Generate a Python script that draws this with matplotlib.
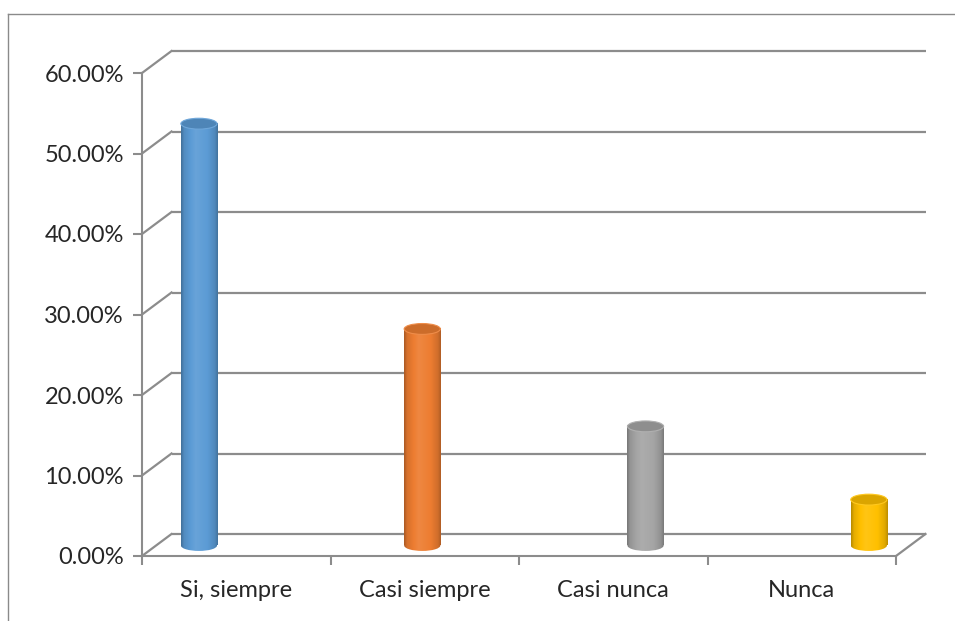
import numpy as np
import matplotlib
matplotlib.use("Agg")
import matplotlib.pyplot as plt
import matplotlib.transforms as mtransforms
from matplotlib.patches import Ellipse
from matplotlib.lines import Line2D
from matplotlib.colors import to_rgb
from matplotlib.ticker import PercentFormatter

plt.rcParams['font.family'] = ['Lato', 'DejaVu Sans']

# survey answers (share of respondents)
categories = ["Si, siempre", "Casi siempre", "Casi nunca", "Nunca"]
values = [0.524, 0.269, 0.148, 0.057]
colors = ["#5b9bd5", "#ed7d31", "#a5a5a5", "#ffc000"]
y_ticks = [0.0, 0.1, 0.2, 0.3, 0.4, 0.5, 0.6]

W, H = 955, 621
fig = plt.figure(figsize=(W / 100, H / 100), dpi=100)
grid_col = "#8c8c8c"
text_col = "#262626"

# outer chart border (only top and left edges fall inside the image)
top = 1 - 14 / H
fig.lines.append(Line2D([8 / W, 1.0], [top, top], transform=fig.transFigure,
                        color="#8a8a8a", lw=1.0))
fig.lines.append(Line2D([8 / W, 8 / W], [0, top], transform=fig.transFigure,
                        color="#8a8a8a", lw=1.0))

# front plane of the 3d box
ax = fig.add_axes([142 / W, 65 / H, 754 / W, 483 / H])
ax.set_xlim(0, 4)
ax.set_ylim(0, 0.6)
ax.patch.set_visible(False)
for s in ["top", "right"]:
    ax.spines[s].set_visible(False)
for s in ["left", "bottom"]:
    ax.spines[s].set_color(grid_col)
    ax.spines[s].set_linewidth(1.5)

ax.set_yticks(y_ticks)
ax.yaxis.set_major_formatter(PercentFormatter(1.0, decimals=2))
ax.tick_params(axis="y", length=6.5, width=1.5, color=grid_col, pad=6.5,
               labelsize=17, labelcolor=text_col)
ax.set_xticks([0, 1, 2, 3, 4])
ax.set_xticklabels([])
ax.set_xticks(np.arange(len(categories)) + 0.5, minor=True)
ax.set_xticklabels(categories, minor=True)
ax.tick_params(axis="x", which="major", length=6.5, width=1.5, color=grid_col)
ax.tick_params(axis="x", which="minor", length=0, pad=17, labelsize=17, labelcolor=text_col)

# back wall + floor, shifted into depth
depth = mtransforms.ScaledTranslation(0.295, 0.22, fig.dpi_scale_trans)
back = ax.transData + depth
for yv in y_ticks:
    ax.plot([0, 4], [yv, yv], transform=back, color=grid_col, lw=1.6, clip_on=False,
            solid_capstyle="butt")
    # connector from the front axis to the back wall
    p0 = ax.transData.transform((0, yv))
    p1 = back.transform((0, yv))
    ax.plot([p0[0], p1[0]], [p0[1], p1[1]], transform=None, color=grid_col, lw=1.6,
            clip_on=False)
# right edge of the floor
p0 = ax.transData.transform((4, 0))
p1 = back.transform((4, 0))
ax.plot([p0[0], p1[0]], [p0[1], p1[1]], transform=None, color=grid_col, lw=1.6, clip_on=False)

# cylinders sit mid-depth on their own category scale;
# y range starts a little below zero so the bottom caps stay in view
y_lo = -0.02
px_per_unit = 483 / 0.6
bx = fig.add_axes([87.3 / W, (H - 545.5 + y_lo * px_per_unit) / H, 893.2 / W,
                   (483 - y_lo * px_per_unit) / H])
bx.axis("off")
bx.set_zorder(ax.get_zorder() + 1)


def shade(rgb, f):
    rgb = np.asarray(rgb)
    if f >= 1:
        return rgb + (1 - rgb) * (f - 1)
    return rgb * f


def gradient(rgb, n=96):
    t = np.linspace(0, 1, n)
    f = np.interp(t, [0, 0.08, 0.4, 0.72, 0.92, 1], [0.72, 0.9, 1.08, 1.0, 0.88, 0.74])
    return np.array([[shade(rgb, v) for v in f]])


bw = 0.162
eh = 0.0135
for i, (v, c) in enumerate(zip(values, colors)):
    xc = i + 0.5
    rgb = np.array(to_rgb(c))
    img = gradient(rgb)
    # bottom cap
    bot = Ellipse((xc, 0), bw, eh, fc="none", ec="none")
    bx.add_patch(bot)
    im = bx.imshow(img, extent=(xc - bw / 2, xc + bw / 2, -eh / 2, eh / 2),
                   aspect="auto", interpolation="bilinear", zorder=2)
    im.set_clip_path(bot)
    # body
    bx.imshow(img, extent=(xc - bw / 2, xc + bw / 2, 0, v), aspect="auto",
              interpolation="bilinear", zorder=3)
    # top cap
    bx.add_patch(Ellipse((xc, v), bw, eh, fc=shade(rgb, 0.86), ec=shade(rgb, 1.12),
                         lw=0.8, zorder=4))

bx.set_xlim(0, 4)
bx.set_ylim(y_lo, 0.6)

fig.savefig("out.png", dpi=100)
